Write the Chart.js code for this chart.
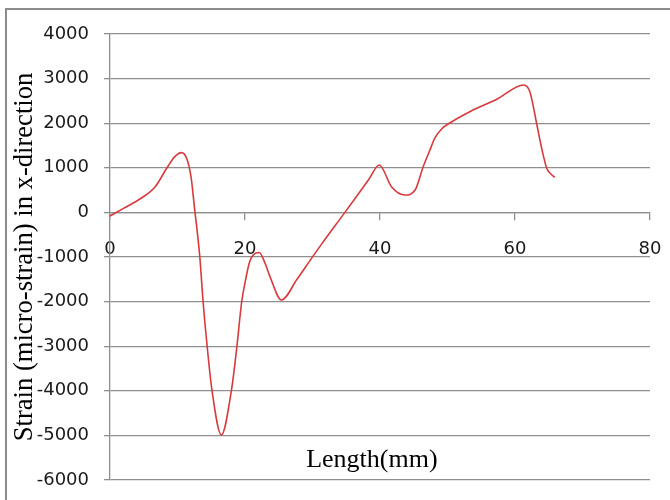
<!DOCTYPE html>
<html>
<head>
<meta charset="utf-8">
<script src="https://cdn.jsdelivr.net/npm/chart.js@4/dist/chart.umd.min.js"></script>
<style>
  html, body { margin: 0; padding: 0; background: #ffffff; }
  #wrap { position: relative; width: 670px; height: 500px; overflow: hidden; }
  canvas { position: absolute; left: 0; top: 0; }
</style>
</head>
<body>
<div id="wrap"><canvas id="chart" width="670" height="500"></canvas></div>
<script>
// Measured strain along the specimen length
const lengthMm = [0, 2, 4.2, 6.7, 8.4, 9.6, 10.6, 11.35, 12.0, 12.5, 13.3, 13.8, 14.4, 15.1, 16.5,
  18.0, 18.8, 19.5, 20.1, 20.7, 21.3, 22.1, 23.0, 23.7, 25.4, 27.7, 29.9, 31.4, 34.8, 37.0, 38.3, 39.9,
  41.7, 43.7, 45.2, 46.4, 47.4, 48.1, 49.2, 50.4, 53.3, 57.3, 61.3, 62.2, 63.2, 63.9, 64.7, 65.2, 65.9];
const strainX = [-80, 90, 278, 577, 989, 1250, 1340, 1213, 800, 128, -990, -2015, -3010, -3980, -4990,
  -3980, -3010, -2015, -1500, -1100, -940, -900, -1150, -1440, -1965, -1500, -1020, -700, 0, 459, 730, 1063,
  577, 390, 502, 1025, 1399, 1661, 1880, 2011, 2258, 2536, 2857, 2706, 1997, 1473, 989, 877, 787];

const xTicks = [0, 20, 40, 60, 80];
const yMin = -6000, yMax = 4000, yStep = 1000;

const yTitle = 'Strain (micro-strain) in x-direction';
const xTitle = 'Length(mm)';

const gridColor = '#8f8f8f';
const labelFont = { family: 'DejaVu Sans', size: 18 };
const titleFont = { family: 'Liberation Serif', size: 26 };
const yTitleFont = { family: 'Liberation Serif', size: 26.6 };

const points = lengthMm.map((x, i) => ({ x: x, y: strainX[i] }));

// Outer frame and the length title sitting inside the plot area
const framePlugin = {
  id: 'frame',
  beforeDraw(chart) {
    const ctx = chart.ctx;
    ctx.save();
    ctx.strokeStyle = '#8c8c8c';
    ctx.lineWidth = 2;
    ctx.beginPath();
    ctx.moveTo(6, 500);
    ctx.lineTo(6, 9);
    ctx.lineTo(670, 9);
    ctx.stroke();
    ctx.restore();
  },
  afterDraw(chart) {
    const ctx = chart.ctx;
    const xs = chart.scales.x;
    const ys = chart.scales.y;
    ctx.save();
    ctx.fillStyle = '#000000';
    ctx.font = titleFont.size + 'px "' + titleFont.family + '"';
    ctx.textAlign = 'center';
    ctx.textBaseline = 'middle';
    ctx.fillText(xTitle, xs.getPixelForValue(38.8), ys.getPixelForValue(-5560));
    ctx.restore();
  }
};

new Chart(document.getElementById('chart'), {
  type: 'scatter',
  data: {
    datasets: [{
      data: points,
      showLine: true,
      borderColor: '#d83a3c',
      borderWidth: 1.6,
      pointRadius: 0,
      fill: false,
      cubicInterpolationMode: 'monotone'
    }]
  },
  options: {
    responsive: false,
    animation: false,
    devicePixelRatio: 1,
    layout: { padding: { top: 34, right: 20, bottom: 20, left: 0 } },
    plugins: {
      legend: { display: false },
      tooltip: { enabled: false },
      title: { display: false }
    },
    scales: {
      x: {
        type: 'linear',
        position: { y: 0 },
        min: 0,
        max: 80,
        afterBuildTicks(scale) { scale.ticks = xTicks.map(v => ({ value: v })); },
        afterFit(scale) { scale.paddingLeft = 0; scale.paddingRight = 0; },
        grid: { drawOnChartArea: false, drawTicks: true, tickLength: 7, color: gridColor, lineWidth: 1.3 },
        border: { display: true, color: gridColor, width: 1.3 },
        ticks: { font: labelFont, color: '#1a1a1a', padding: 19, maxRotation: 0, callback: v => String(v) }
      },
      y: {
        type: 'linear',
        position: 'left',
        min: yMin,
        max: yMax,
        afterFit(scale) { scale.width = 110; scale.paddingTop = 0; scale.paddingBottom = 0; },
        grid: { color: gridColor, lineWidth: 1.3, tickLength: 6, drawTicks: true },
        border: { display: true, color: gridColor, width: 1.3 },
        ticks: { stepSize: yStep, font: labelFont, color: '#1a1a1a', padding: 15, callback: v => String(v) },
        title: {
          display: true,
          text: yTitle,
          font: yTitleFont,
          color: '#000000',
          padding: { top: 9, bottom: 0 }
        }
      }
    }
  },
  plugins: [framePlugin]
});
</script>
</body>
</html>
